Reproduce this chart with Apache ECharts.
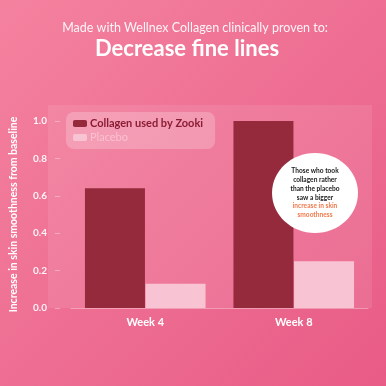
<!DOCTYPE html>
<html>
<head>
<meta charset="utf-8">
<script src="https://cdn.jsdelivr.net/npm/echarts@6/dist/echarts.min.js"></script>
<style>
  html, body { margin: 0; padding: 0; }
  #chart { width: 386px; height: 386px; }
</style>
</head>
<body>
<div id="chart"></div>
<script>
// data
var weeks = ['Week 4', 'Week 8']
var collagen = [0.64, 1.0]
var placebo = [0.13, 0.25]
var yTicks = [0, 0.2, 0.4, 0.6, 0.8, 1.0]

var font = 'Lato'
var chart = echarts.init(document.getElementById('chart'))

chart.setOption({
  backgroundColor: new echarts.graphic.LinearGradient(0, 0, 1, 1, [
    { offset: 0, color: '#f4829f' },
    { offset: 1, color: '#e85b86' }
  ]),
  title: [
    {
      text: 'Made with Wellnex Collagen clinically proven to:',
      left: 190,
      top: 16,
      textAlign: 'center',
      textStyle: { color: 'rgba(255,255,255,0.92)', fontSize: 12.5, fontWeight: 'normal', fontFamily: font }
    },
    {
      text: 'Decrease fine lines',
      left: 182,
      top: 33,
      textAlign: 'center',
      textStyle: { color: '#fff', fontSize: 22, fontWeight: 'bold', fontFamily: font }
    }
  ],
  legend: {
    left: 66,
    top: 112,
    orient: 'vertical',
    backgroundColor: 'rgba(255,255,255,0.22)',
    borderRadius: 8,
    padding: [6, 12, 6, 7],
    itemWidth: 14,
    itemHeight: 7,
    itemGap: 3,
    width: 152,
    data: [
      { name: 'Collagen used by Zooki', textStyle: { color: '#8a1c33', fontWeight: 'bold' } },
      { name: 'Placebo', textStyle: { color: '#f9c2d1', fontWeight: 'normal' } }
    ],
    textStyle: { fontSize: 11, fontFamily: font, padding: [0, 0, 0, -2] }
  },
  grid: { left: 64, right: 18, top: 121, bottom: 78 },
  xAxis: {
    type: 'category',
    data: weeks,
    axisLine: { show: true, lineStyle: { color: 'rgba(255,255,255,0.35)' } },
    axisTick: { show: false },
    axisLabel: { color: '#fff', fontWeight: 'bold', fontSize: 11, fontFamily: font, margin: 9 }
  },
  yAxis: {
    type: 'value',
    min: 0,
    max: 1.0,
    interval: 0.2,
    offset: 16,
    name: 'Increase in skin smoothness from baseline',
    nameLocation: 'middle',
    nameGap: 36,
    nameTextStyle: { color: '#fff', fontWeight: 'bold', fontSize: 10.5, fontFamily: font },
    axisLine: { show: false },
    axisTick: { show: true, inside: true, length: 5, lineStyle: { color: 'rgba(255,255,255,0.35)' } },
    splitLine: { show: false },
    axisLabel: {
      color: 'rgba(255,255,255,0.92)',
      fontWeight: 'bold',
      fontSize: 10,
      fontFamily: font,
      margin: 8,
      formatter: function (v) {
        return yTicks.indexOf(Math.round(v * 10) / 10) >= 0 ? v.toFixed(1) : ''
      }
    }
  },
  series: [
    {
      name: 'Collagen used by Zooki',
      type: 'bar',
      data: collagen,
      barWidth: 60,
      barGap: '1%',
      itemStyle: { color: '#962a3d' }
    },
    {
      name: 'Placebo',
      type: 'bar',
      data: placebo,
      barWidth: 60,
      itemStyle: { color: '#f8c3d2' }
    }
  ],
  graphic: [
    {
      type: 'rect',
      z: -1,
      shape: { x: 48, y: 105, width: 324, height: 203 },
      style: { fill: 'rgba(255,255,255,0.09)' }
    },
    {
      type: 'ellipse',
      z: 100,
      shape: { cx: 315, cy: 193, rx: 43, ry: 40 },
      style: { fill: '#fff' }
    },
    {
      type: 'text',
      z: 101,
      x: 315,
      y: 193,
      style: {
        text: '{b|Those who took}\n{b|collagen rather}\n{b|than the placebo}\n{b|saw a bigger}\n{o|increase in skin}\n{o|smoothness}',
        align: 'center',
        verticalAlign: 'middle',
        rich: {
          b: { fill: '#1a1a1a', fontSize: 6.6, fontWeight: 'bold', fontFamily: font, lineHeight: 8.8, align: 'center' },
          o: { fill: '#f07a4c', fontSize: 6.6, fontWeight: 'bold', fontFamily: font, lineHeight: 8.8, align: 'center' }
        }
      }
    }
  ]
})
</script>
</body>
</html>
